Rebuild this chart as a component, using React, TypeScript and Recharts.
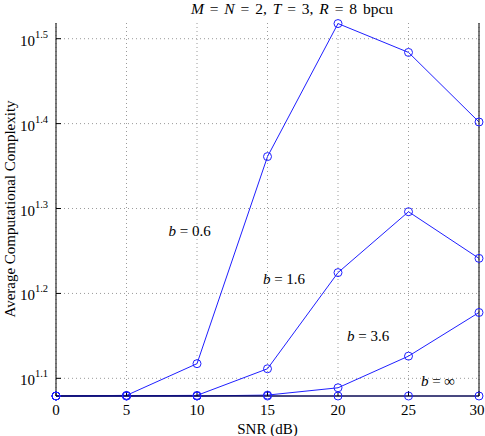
import React from 'react';
import { LineChart, Line, XAxis, YAxis, CartesianGrid, ReferenceDot } from 'recharts';

// SNR points (dB)
const snr = [0, 5, 10, 15, 20, 25, 30];

// average complexity for each b
const b06 = [12.0, 12.02, 13.1, 22.97, 32.95, 30.47, 25.23];
const b16 = [12.0, 12.01, 12.02, 12.92, 16.77, 19.78, 17.43];
const b36 = [12.0, 12.0, 12.0, 12.03, 12.27, 13.37, 15.05];
const binf = [12.0, 12.0, 12.0, 12.0, 12.0, 12.0, 12.0];

const xTicks = [0, 5, 10, 15, 20, 25, 30];
const yExponents = ['1.1', '1.2', '1.3', '1.4', '1.5'];
const yTicks = yExponents.map((e) => Math.pow(10, parseFloat(e)));

const curveLabels = [
  { x: 9.47, y: 18.76, b: '0.6' },
  { x: 16.17, y: 16.47, b: '1.6' },
  { x: 22.13, y: 14.12, b: '3.6' },
  { x: 27.09, y: 12.5, b: '\u221E' },
];

const data = snr.map((s, i) => ({
  snr: s,
  b06: b06[i],
  b16: b16[i],
  b36: b36[i],
  binf: binf[i],
}));

const FONT = '"Liberation Serif", "DejaVu Serif", serif';
const BLUE = '#1f1fff';

const XTick = (props: any) => {
  const { x, y, payload } = props;
  return (
    <text x={x} y={y} dy={10} textAnchor="middle" fontFamily={FONT} fontSize={15} fill="#000">
      {payload.value}
    </text>
  );
};

const YTick = (props: any) => {
  const { x, y, payload } = props;
  const exp = Math.log10(payload.value).toFixed(1);
  return (
    <text x={x} y={y} dy={7} textAnchor="end" fontFamily={FONT} fontSize={15} fill="#000">
      10
      <tspan dy={-8} fontSize={10.5}>
        {exp}
      </tspan>
    </text>
  );
};

const marker = (props: any) => {
  const { cx, cy, index } = props;
  return <circle key={index} cx={cx} cy={cy} r={4} fill="none" stroke={BLUE} strokeWidth={1} />;
};

const YLabel = () => (
  <text
    x={15}
    y={209}
    transform="rotate(-90 15 209)"
    textAnchor="middle"
    fontFamily={FONT}
    fontSize={15}
    fill="#000"
  >
    Average Computational Complexity
  </text>
);

export default function App() {
  const series = ['b06', 'b16', 'b36', 'binf'];
  return (
    <div style={{ position: 'absolute', left: 0, top: 0, width: 485, height: 436 }}>
      <LineChart
        width={485}
        height={436}
        data={data}
        margin={{ top: 23, right: 0, bottom: 0, left: 0 }}
      >
        <CartesianGrid
          stroke="#9a9a9a"
          strokeDasharray="1 3"
          horizontalValues={yTicks}
          verticalValues={xTicks}
        />
        <XAxis
          dataKey="snr"
          type="number"
          domain={[0, 30]}
          ticks={xTicks}
          height={40}
          axisLine={{ stroke: '#000' }}
          tickLine={{ stroke: '#000' }}
          tickSize={-5}
          tickMargin={14}
          tick={<XTick />}
          label={{
            value: 'SNR (dB)',
            position: 'insideBottom',
            offset: 2,
            fontFamily: FONT,
            fontSize: 15,
            fill: '#000',
          }}
        />
        <XAxis
          xAxisId="top"
          orientation="top"
          dataKey="snr"
          type="number"
          domain={[0, 30]}
          ticks={xTicks}
          height={0}
          axisLine={{ stroke: '#000' }}
          tickLine={{ stroke: '#000' }}
          tickSize={-5}
          tick={false}
        />
        <YAxis
          scale="log"
          domain={[12, 33]}
          ticks={yTicks}
          width={56}
          axisLine={{ stroke: '#000' }}
          tickLine={{ stroke: '#000' }}
          tickSize={-5}
          tickMargin={13}
          tick={<YTick />}
          label={<YLabel />}
        />
        <YAxis
          yAxisId="right"
          orientation="right"
          scale="log"
          domain={[12, 33]}
          ticks={yTicks}
          width={6}
          axisLine={{ stroke: '#000' }}
          tickLine={{ stroke: '#000' }}
          tickSize={-5}
          tick={false}
        />
        {series.map((k) => (
          <Line
            key={k}
            dataKey={k}
            stroke={BLUE}
            strokeWidth={1}
            dot={marker}
            activeDot={false}
            isAnimationActive={false}
          />
        ))}
        {curveLabels.map((l) => (
          <ReferenceDot
            key={l.b}
            x={l.x}
            y={l.y}
            r={0}
            shape={(p: any) => (
              <text
                x={p.cx}
                y={p.cy}
                dy={5}
                textAnchor="middle"
                fontFamily={FONT}
                fontSize={15}
                fill="#000"
              >
                <tspan fontStyle="italic">b</tspan> = {l.b}
              </text>
            )}
          />
        ))}
      </LineChart>
      <div
        style={{
          position: 'absolute',
          left: 92,
          width: 400,
          top: 0,
          textAlign: 'center',
          fontFamily: FONT,
          fontSize: 15.5,
          lineHeight: '17px',
          wordSpacing: 2,
          color: '#000',
          whiteSpace: 'nowrap',
        }}
      >
        <i>M</i> = <i>N</i> = 2, <i>T</i> = 3, <i>R</i> = 8 bpcu
      </div>
    </div>
  );
}
